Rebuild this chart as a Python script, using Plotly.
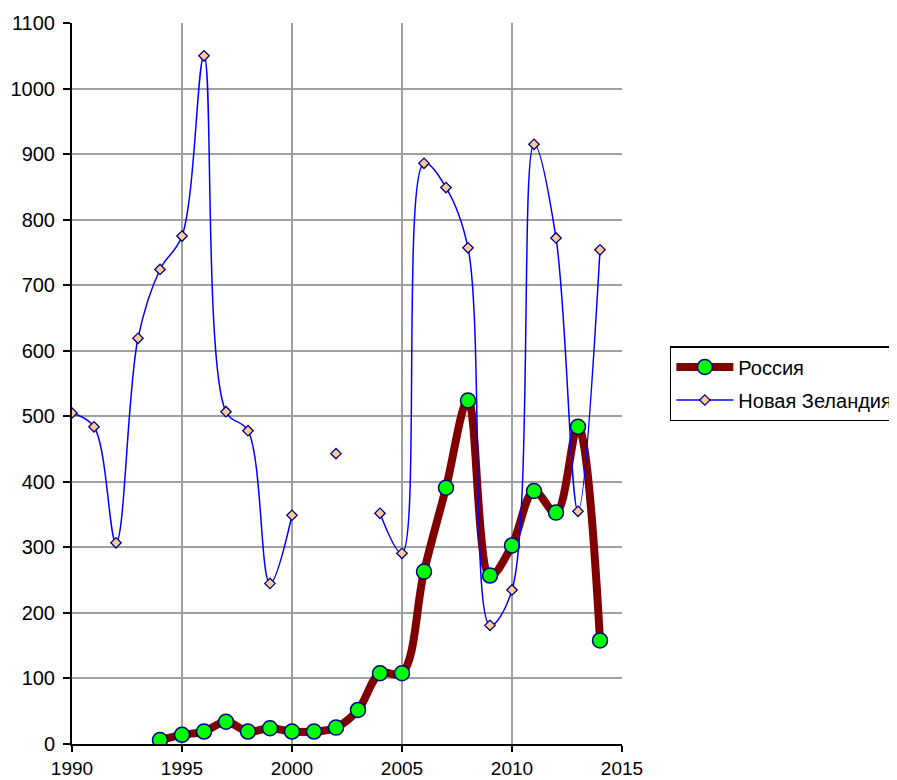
import plotly.graph_objects as go

years = list(range(1990, 2015))
russia_years = list(range(1994, 2015))
russia = [6, 14, 19, 34, 19, 24, 19, 19, 25, 52, 108, 108, 263, 391, 524, 257, 303, 386, 353, 484, 158]
nz = [505, 484, 307, 619, 724, 775, 1050, 507, 478, 245, 349, None, 443, None,
      352, 291, 886, 849, 757, 181, 235, 915, 772, 355, 754]

fig = go.Figure()
fig.add_trace(go.Scatter(
    x=russia_years, y=russia, name="Россия", mode="lines+markers", legendgroup="ru",
    line=dict(color="#800000", width=8, shape="spline", smoothing=1),
    marker=dict(symbol="circle", size=15, color="#00ff00",
                line=dict(color="#000080", width=1.5)),
))
fig.add_trace(go.Scatter(
    x=years, y=nz, name="Новая Зеландия", mode="lines+markers", legendgroup="nz",
    line=dict(color="#0000ff", width=1.5, shape="spline", smoothing=1),
    marker=dict(symbol="diamond", size=8, color="#ffcc99",
                line=dict(color="#000080", width=1.3)),
    connectgaps=False,
))

fig.update_layout(
    width=897, height=780,
    margin=dict(l=64, r=283, t=15, b=44, autoexpand=False),
    paper_bgcolor="white", plot_bgcolor="white",
    font=dict(family="Liberation Sans, Arial, sans-serif", size=20, color="black"),
    showlegend=True,
    legend=dict(x=1.087, y=0.5, xanchor="left", yanchor="middle",
                bordercolor="black", borderwidth=1.5, bgcolor="white",
                font=dict(size=20), itemwidth=57, tracegroupgap=4,
                traceorder="grouped"),
)
fig.update_xaxes(
    range=[1990, 2015], tickmode="array", tickvals=[1990, 1995, 2000, 2005, 2010, 2015],
    showgrid=True, gridcolor="#a0a0a0", gridwidth=2,
    showline=True, linecolor="black", linewidth=2,
    ticks="outside", ticklen=6, tickwidth=2, tickcolor="black", zeroline=False,
    ticklabelstandoff=0, tickfont=dict(size=19),
)
fig.update_yaxes(
    range=[0, 1100], tickmode="array", tickvals=list(range(0, 1101, 100)),
    showgrid=True, gridcolor="#a0a0a0", gridwidth=2,
    showline=True, linecolor="black", linewidth=2,
    ticks="outside", ticklen=7, tickwidth=2, tickcolor="black", zeroline=False,
    ticklabelstandoff=4,
)
fig.write_html("out.html")
